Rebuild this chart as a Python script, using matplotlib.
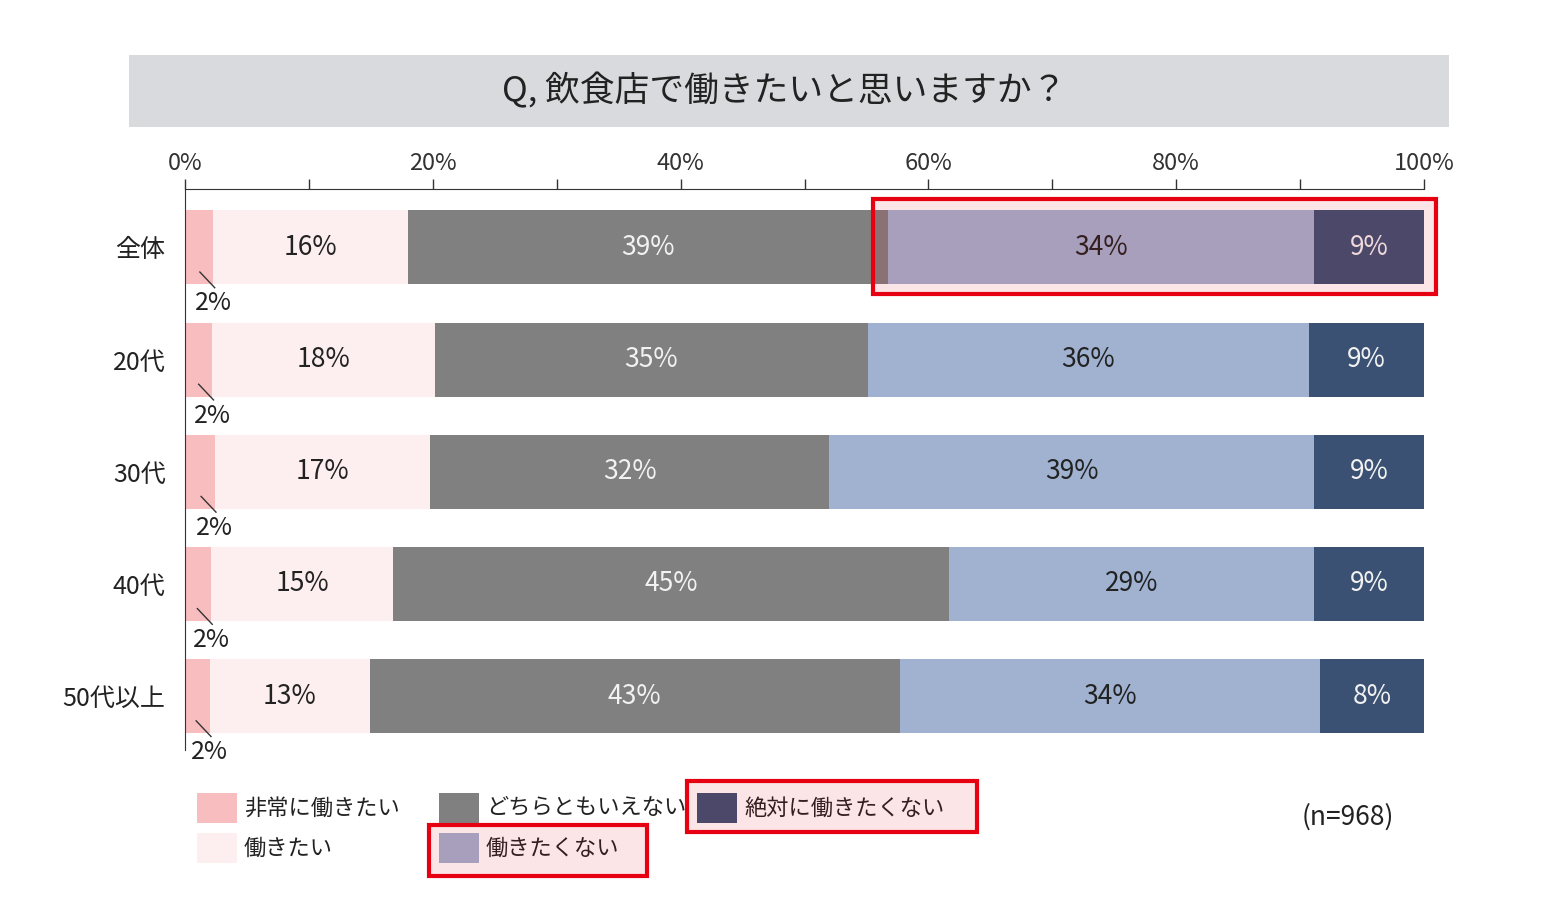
import matplotlib
matplotlib.use("Agg")
import matplotlib.pyplot as plt
from matplotlib.patches import Rectangle
import numpy as np

plt.rcParams['font.family'] = ['Noto Sans CJK JP', 'DejaVu Sans']

# data (percent)
groups = ["全体", "20代", "30代", "40代", "50代以上"]
series = ["非常に働きたい", "働きたい", "どちらともいえない", "働きたくない", "絶対に働きたくない"]
very_want = [2.3, 2.2, 2.4, 2.1, 2.0]
want = [15.7, 18.0, 17.4, 14.7, 12.9]
neutral = [38.7, 34.9, 32.2, 44.9, 42.8]
not_want = [34.4, 35.6, 39.1, 29.4, 33.9]
never_want = [8.9, 9.3, 8.9, 8.9, 8.4]
sample_note = "(n=968)"
title = "Q, 飲食店で働きたいと思いますか？"

colors = ["#F8BDBF", "#FDEEEF", "#808080", "#A0B2D0", "#3A5173"]
text_colors = [None, "#222222", "#F2F2F2", "#222222", "#F2F2F2"]
red = "#E60012"
W, H = 1564, 918

fig = plt.figure(figsize=(W / 100, H / 100), dpi=100)
ax = fig.add_axes([185 / W, 1 - 750 / H, 1239 / W, 561 / H])

def fig_rect(x0, y0, x1, y1, **kw):
    # rectangle given in pixel coords of the picture (y down)
    return Rectangle((x0 / W, 1 - y1 / H), (x1 - x0) / W, (y1 - y0) / H,
                     transform=fig.transFigure, **kw)

# title band
fig.add_artist(fig_rect(129, 55, 1449, 127, facecolor="#D9DADE", edgecolor="none"))
fig.text(784 / W, 1 - 91 / H, title, ha="center", va="center", fontsize=25, color="#222222")

y = np.arange(len(groups))
data = [very_want, want, neutral, not_want, never_want]
left = np.zeros(len(groups))
bh = 0.66
for i, vals in enumerate(data):
    vals = np.array(vals)
    ax.barh(y, vals, left=left, height=bh, color=colors[i], edgecolor="none", label=series[i])
    for j in range(len(groups)):
        txt = f"{vals[j]:.0f}%"
        if i == 0:
            # small segment: label below with a leader line
            xe = left[j] + vals[j]
            ax.plot([xe - 1.1, xe + 0.1], [y[j] + 0.22, y[j] + 0.36], color="#333333", lw=1, clip_on=False)
            ax.text(xe, y[j] + 0.5, txt, ha="center", va="center", fontsize=18, color="#222222")
        else:
            ax.text(left[j] + vals[j] / 2, y[j], txt, ha="center", va="center",
                    fontsize=19, color=text_colors[i])
    left += vals

ax.set_xlim(0, 100)
ax.set_ylim(4.48, -0.52)
ax.set_yticks(y)
ax.set_yticklabels(groups, fontsize=18, color="#222222")
ax.tick_params(axis="y", length=0, pad=14)
ax.xaxis.tick_top()
ax.set_xticks(np.arange(0, 101, 20))
ax.set_xticklabels([f"{v}%" for v in range(0, 101, 20)], fontsize=17, color="#333333")
ax.set_xticks(np.arange(10, 100, 20), minor=True)
ax.tick_params(axis="x", which="both", direction="out", length=7, width=1, color="#333333", pad=3)
for s in ["right", "bottom"]:
    ax.spines[s].set_visible(False)
ax.spines["top"].set_color("#333333")
ax.spines["left"].set_color("#333333")

# highlight on the 全体 row
ax.add_patch(Rectangle((55.5, -0.43), 45.5, 0.85, facecolor=red, alpha=0.1,
                       edgecolor="none", clip_on=False, zorder=5))
ax.add_patch(Rectangle((55.5, -0.43), 45.5, 0.85, facecolor="none", edgecolor=red,
                       lw=3, clip_on=False, zorder=6))

# legend, laid out by hand (x of swatch, y centre of row)
legend_pos = [(197, 808), (197, 848), (439, 808), (439, 848), (697, 808)]
for k, (lx, ly) in enumerate(legend_pos):
    fig.add_artist(fig_rect(lx, ly - 15, lx + 40, ly + 15, facecolor=colors[k], edgecolor="none"))
    fig.text((lx + 47) / W, 1 - ly / H, series[k], ha="left", va="center",
             fontsize=16, color="#222222")

for (x0, y0, x1, y1) in [(687, 781, 977, 832), (429, 825, 647, 876)]:
    fig.add_artist(fig_rect(x0, y0, x1, y1, facecolor=red, alpha=0.1, edgecolor="none", zorder=5))
    fig.add_artist(fig_rect(x0, y0, x1, y1, facecolor="none", edgecolor=red, lw=3, zorder=6))

fig.text(1348 / W, 1 - 817 / H, sample_note, ha="center", va="center", fontsize=19, color="#222222")

fig.savefig("out.png", dpi=100)
